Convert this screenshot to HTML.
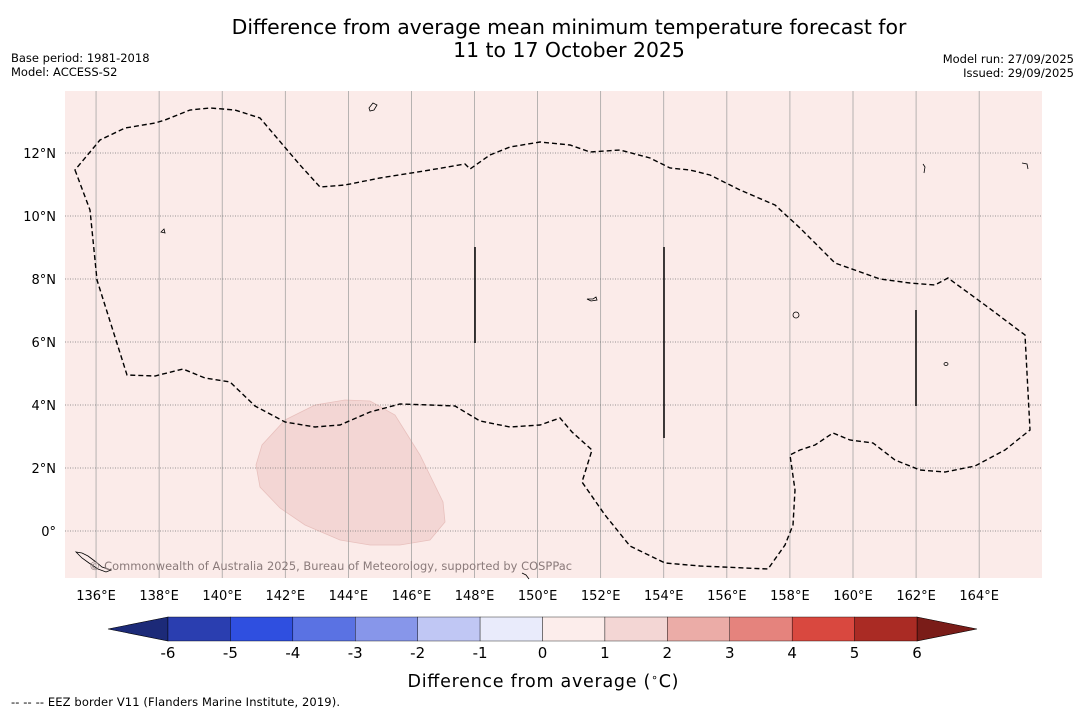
<!DOCTYPE html>
<html><head><meta charset="utf-8"><style>
body{margin:0;background:#fff;font-family:"Liberation Sans","DejaVu Sans",sans-serif;}
svg{display:block}
</style></head><body>
<svg width="1085" height="713" viewBox="0 0 1085 713" xmlns="http://www.w3.org/2000/svg" font-family="DejaVu Sans, Liberation Sans, sans-serif">
<text x="569" y="34" text-anchor="middle" font-size="20.4">Difference from average mean minimum temperature forecast for</text>
<text x="569" y="57" text-anchor="middle" font-size="20.4">11 to 17 October 2025</text>
<text x="11" y="62" font-size="11.5">Base period: 1981-2018</text>
<text x="11" y="76" font-size="11.5">Model: ACCESS-S2</text>
<text x="1074" y="63" text-anchor="end" font-size="11.5">Model run: 27/09/2025</text>
<text x="1074" y="77" text-anchor="end" font-size="11.5">Issued: 29/09/2025</text>

<g>
<rect x="65" y="91" width="977" height="487" fill="#fbebe9"/>
<path d="M345,400 L370,401 L395,415 L420,455 L443,502 L445,522 L430,540 L400,545 L370,545 L340,540 L305,525 L280,508 L260,487 L256,465 L262,445 L285,420 L315,405 Z" fill="#f3d6d4" stroke="#e8c0bd" stroke-width="0.8"/>
<g id="grid"></g>
<path d="M75,170 L90,210 L97,280 L127,375 L155,376 L183,369 L205,378 L230,382 L255,406 L285,422 L315,427 L340,425 L370,412 L400,404 L430,405 L455,406 L480,421 L510,427 L540,425 L560,418 L572,432 L592,450 L582,482 L605,515 L630,546 L665,563 L700,566 L768,569 L785,545 L793,525 L795,490 L790,455 L800,450 L815,445 L833,433 L850,440 L873,443 L895,460 L920,470 L945,472 L975,466 L1005,450 L1030,430 L1025,335 L985,305 L948,278 L935,285 L910,283 L880,279 L835,263 L800,228 L775,205 L740,190 L710,175 L690,170 L670,168 L650,158 L620,150 L590,152 L570,145 L540,142 L510,147 L490,155 L470,169 L465,164 L430,170 L380,178 L345,185 L320,187 L300,165 L260,118 L235,110 L210,108 L190,110 L165,120 L155,123 L125,128 L100,140 Z" fill="none" stroke="#000" stroke-width="1.4" stroke-dasharray="5,3"/>
<line x1="475" y1="247" x2="475" y2="343" stroke="#000" stroke-width="1.5"/>
<line x1="664" y1="247" x2="664" y2="438" stroke="#000" stroke-width="1.5"/>
<line x1="916" y1="310" x2="916" y2="406" stroke="#000" stroke-width="1.5"/>
<g fill="none" stroke="#000" stroke-width="0.8">
<path d="M369,108 l4,-5 l4,2 l-3,5 l-4,1 z"/>
<path d="M161,232 l3,-3 l1,4 z"/>
<path d="M587,299 l6,0 l3,-2 l1,3 l-6,1 z"/>
<ellipse cx="796" cy="315" rx="3" ry="3"/>
<ellipse cx="946" cy="364" rx="2" ry="1.5"/>
<path d="M76,552 l6,1 l6,3 l8,6 l6,5 l9,3 l-5,2 l-8,-3 l-9,-6 l-7,-5 z"/>
<path d="M522,573 l4,2 l3,4"/>
<path d="M1022,163 l5,1 l1,5"/>
<path d="M923,164 l2,3 l-1,6"/>
</g>
<text x="89" y="570" font-size="11.4" fill="#8a7a7a" textLength="483">© Commonwealth of Australia 2025, Bureau of Meteorology, supported by COSPPac</text>
</g>
<g id="axes"></g>

<g id="cbar"></g>
<text x="543" y="687" text-anchor="middle" font-size="17.5" textLength="271">Difference from average (<tspan baseline-shift="super" font-size="11">∘</tspan>C)</text>
<text x="11" y="706" font-size="11.5" textLength="329">--  --  -- EEZ border V11 (Flanders Marine Institute, 2019).</text>
</svg>
<script>
const lonTicks=[136,138,140,142,144,146,148,150,152,154,156,158,160,162,164];
const latTicks=[0,2,4,6,8,10,12];
const cbLevels=[-6,-5,-4,-3,-2,-1,0,1,2,3,4,5,6];
const cbColors=["#2a3eb0","#2f4fe0","#5a72e3","#8796ea","#c0c7f4","#e9ebfb","#fcedeb","#f3d6d4","#ebaca7","#e5837d","#d9483f","#aa2b24"];
const NS="http://www.w3.org/2000/svg";
const xLon=l=>64.5+(l-135)*31.54;
const yLat=l=>531-l*31.5;
function mk(t,a,p){const e=document.createElementNS(NS,t);for(const k in a)e.setAttribute(k,a[k]);p.appendChild(e);return e;}
const grid=document.getElementById('grid'),axes=document.getElementById('axes');
lonTicks.forEach(l=>{const x=xLon(l);
const g=mk('line',{x1:x,y1:91,x2:x,y2:578,stroke:'#999','stroke-width':0.7},grid);


const t=mk('text',{x:x,y:600,'text-anchor':'middle','font-size':13},axes);t.textContent=l+'°E';

});
latTicks.forEach(l=>{const y=yLat(l);
const g=mk('line',{x1:65,y1:y,x2:1042,y2:y,stroke:'#777','stroke-width':0.8,'stroke-dasharray':'1,1.5'},grid);


const t=mk('text',{x:56,y:y+5,'text-anchor':'end','font-size':13},axes);t.textContent=l===0?'0°':l+'°N';

});
const cb=document.getElementById('cbar');
const x0=168,x1=917,w=(x1-x0)/(cbLevels.length-1),y0=617,h=24;
const lo=mk('polygon',{points:`${x0},${y0} 108,${y0+h/2} ${x0},${y0+h}`,fill:'#1c2a78',stroke:'#000','stroke-width':0.6},cb);


const hi=mk('polygon',{points:`${x1},${y0} 977,${y0+h/2} ${x1},${y0+h}`,fill:'#7a1c18',stroke:'#000','stroke-width':0.6},cb);


cbColors.forEach((c,i)=>{const r=mk('rect',{x:x0+i*w,y:y0,width:w,height:h,fill:c,stroke:'#000','stroke-width':0.4},cb);

});
cbLevels.forEach((v,i)=>{const t=mk('text',{x:x0+i*w,y:658,'text-anchor':'middle','font-size':15},cb);t.textContent=v;

});
</script>
</body></html>
